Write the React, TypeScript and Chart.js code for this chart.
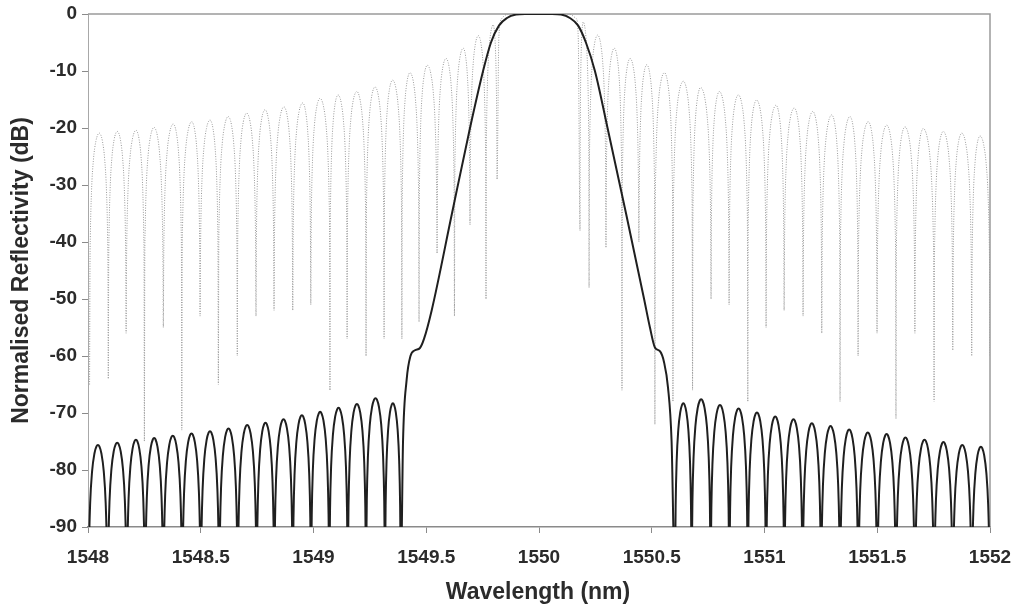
import React, { useEffect, useRef } from "react";
import { Chart, registerables } from "chart.js";

Chart.register(...registerables);

// ---------- axes ----------
const X_TICKS = [1548, 1548.5, 1549, 1549.5, 1550, 1550.5, 1551, 1551.5, 1552];
const Y_TICKS = [0, -10, -20, -30, -40, -50, -60, -70, -80, -90];
const X_TITLE = "Wavelength (nm)";
const Y_TITLE = "Normalised Reflectivity (dB)";

// ---------- apodised grating (solid black) ----------
const APOD_LEFT_NULLS = [1548.001, 1548.087, 1548.172, 1548.253, 1548.334, 1548.418, 1548.5, 1548.582, 1548.664, 1548.748, 1548.826, 1548.908, 1548.989, 1549.07, 1549.152, 1549.233, 1549.317, 1549.387];
const APOD_LEFT_PEAKS = [-75.6, -75.2, -74.7, -74.4, -74.0, -73.6, -73.2, -72.7, -72.1, -71.7, -71.1, -70.4, -69.8, -69.1, -68.4, -67.4, -68.3];
const APOD_MAIN_X = [1549.397, 1549.413, 1549.43, 1549.45, 1549.472, 1549.49, 1549.524, 1549.614, 1549.694, 1549.752, 1549.787, 1549.823, 1549.858, 1549.898, 1549.938, 1550.0, 1550.058, 1550.098, 1550.137, 1550.173, 1550.208, 1550.248, 1550.304, 1550.386, 1550.466, 1550.492, 1550.514, 1550.537, 1550.554, 1550.572, 1550.588];
const APOD_MAIN_Y = [-75, -64.2, -60.0, -59.0, -58.6, -57.0, -52.0, -35.0, -20.0, -10.0, -5.0, -2.0, -0.7, -0.1, 0, 0, 0, -0.1, -0.7, -2.0, -5.0, -10.0, -20.0, -35.0, -50.0, -55.0, -58.5, -59.2, -61.0, -65.5, -75.0];
const APOD_RIGHT_NULLS = [1550.603, 1550.677, 1550.761, 1550.844, 1550.926, 1551.007, 1551.088, 1551.169, 1551.251, 1551.335, 1551.416, 1551.5, 1551.583, 1551.667, 1551.752, 1551.835, 1551.919, 1552.0];
const APOD_RIGHT_PEAKS = [-68.3, -67.6, -68.6, -69.2, -69.9, -70.6, -71.1, -71.8, -72.3, -72.9, -73.4, -73.7, -74.3, -74.7, -75.1, -75.6, -75.9];
const APOD_NULL_LEVEL = -100; // nulls fall below the -90 dB floor

// ---------- uniform grating (dotted grey) ----------
const UNI_LEFT_NULL_X = [1548.007, 1548.09, 1548.169, 1548.25, 1548.334, 1548.416, 1548.497, 1548.578, 1548.662, 1548.745, 1548.825, 1548.908, 1548.988, 1549.073, 1549.149, 1549.233, 1549.313, 1549.392, 1549.468, 1549.548, 1549.625, 1549.694, 1549.765, 1549.814];
const UNI_LEFT_NULL_Y = [-65, -64, -56, -75, -55, -73, -53, -65, -60, -53, -52, -52, -51, -66, -57, -60, -57, -57, -54, -42, -53, -37, -50, -29];
const UNI_LEFT_PEAK_X = [1548.05, 1548.13, 1548.213, 1548.293, 1548.378, 1548.46, 1548.541, 1548.622, 1548.704, 1548.785, 1548.869, 1548.952, 1549.029, 1549.109, 1549.192, 1549.273, 1549.351, 1549.428, 1549.505, 1549.588, 1549.664, 1549.731, 1549.797];
const UNI_LEFT_PEAK_Y = [-20.9, -20.6, -20.4, -19.9, -19.3, -18.9, -18.6, -18.0, -17.4, -16.8, -16.3, -15.6, -14.8, -14.2, -13.6, -12.8, -11.6, -10.3, -9.0, -7.8, -6.0, -3.8, -1.9];
const UNI_MAIN_X = [1549.822, 1549.835, 1549.87, 1550.13, 1550.165, 1550.174];
const UNI_MAIN_Y = [-4, -0.8, 0, 0, -0.8, -4];
const UNI_RIGHT_NULL_X = [1550.182, 1550.222, 1550.297, 1550.368, 1550.443, 1550.514, 1550.594, 1550.681, 1550.763, 1550.843, 1550.926, 1551.007, 1551.087, 1551.171, 1551.254, 1551.335, 1551.415, 1551.499, 1551.583, 1551.667, 1551.752, 1551.835, 1551.919, 1552.0];
const UNI_RIGHT_NULL_Y = [-38, -48, -41, -66, -40, -72, -68, -66, -50, -51, -68, -55, -52, -53, -56, -68, -60, -56, -71, -56, -68, -59, -60, -60];
const UNI_RIGHT_PEAK_X = [1550.196, 1550.26, 1550.334, 1550.404, 1550.478, 1550.556, 1550.64, 1550.717, 1550.8, 1550.884, 1550.965, 1551.051, 1551.132, 1551.214, 1551.298, 1551.379, 1551.46, 1551.542, 1551.623, 1551.704, 1551.793, 1551.875, 1551.956];
const UNI_RIGHT_PEAK_Y = [-1.4, -3.7, -6.0, -7.8, -8.9, -10.3, -11.8, -12.9, -13.6, -14.2, -15.1, -16.0, -16.5, -17.1, -17.7, -18.0, -18.9, -19.5, -19.8, -20.1, -20.6, -20.9, -21.4];

// side-lobe outline: dB below the lobe top,
// at fractions of the way from a null to the lobe top
const LOBE_FRAC = [0.04, 0.08, 0.2, 0.4, 0.64, 0.85];
const LOBE_DROP = [-24, -18, -10.2, -4.6, -1.5, -0.25];

type P = { x: number; y: number };

function pushLobes(out: P[], nx: number[], ny: number[], px: number[], py: number[]) {
  for (let i = 0; i < px.length; i++) {
    const x0 = nx[i], y0 = ny[i], x1 = nx[i + 1], y1 = ny[i + 1];
    const xp = px[i], yp = py[i];
    if (i === 0) out.push({ x: x0, y: y0 });
    for (let k = 0; k < LOBE_FRAC.length; k++) {
      out.push({ x: x0 + (xp - x0) * LOBE_FRAC[k], y: Math.max(yp + LOBE_DROP[k], y0) });
    }
    out.push({ x: xp, y: yp });
    for (let k = LOBE_FRAC.length - 1; k >= 0; k--) {
      out.push({ x: xp + (x1 - xp) * (1 - LOBE_FRAC[k]), y: Math.max(yp + LOBE_DROP[k], y1) });
    }
    out.push({ x: x1, y: y1 });
  }
}

function buildApodised(): P[] {
  const out: P[] = [];
  const lny = APOD_LEFT_NULLS.map(() => APOD_NULL_LEVEL);
  const lpx = APOD_LEFT_PEAKS.map((_, i) => (APOD_LEFT_NULLS[i] + APOD_LEFT_NULLS[i + 1]) / 2);
  pushLobes(out, APOD_LEFT_NULLS, lny, lpx, APOD_LEFT_PEAKS);
  APOD_MAIN_X.forEach((x, i) => out.push({ x, y: APOD_MAIN_Y[i] }));
  const rny = APOD_RIGHT_NULLS.map(() => APOD_NULL_LEVEL);
  const rpx = APOD_RIGHT_PEAKS.map((_, i) => (APOD_RIGHT_NULLS[i] + APOD_RIGHT_NULLS[i + 1]) / 2);
  pushLobes(out, APOD_RIGHT_NULLS, rny, rpx, APOD_RIGHT_PEAKS);
  return out;
}

function buildUniform(): P[] {
  const out: P[] = [];
  pushLobes(out, UNI_LEFT_NULL_X, UNI_LEFT_NULL_Y, UNI_LEFT_PEAK_X, UNI_LEFT_PEAK_Y);
  UNI_MAIN_X.forEach((x, i) => out.push({ x, y: UNI_MAIN_Y[i] }));
  pushLobes(out, UNI_RIGHT_NULL_X, UNI_RIGHT_NULL_Y, UNI_RIGHT_PEAK_X, UNI_RIGHT_PEAK_Y);
  return out;
}

const FONT = '"Liberation Sans", Arial, Helvetica, sans-serif';
const TEXT = "#2b2b2b";
const AXIS = "#8a8a8a";

const framePlugin = {
  id: "frame",
  beforeDatasetsDraw(chart: any) {
    const { ctx, chartArea } = chart;
    ctx.save();
    ctx.strokeStyle = "#9a9a9a";
    ctx.lineWidth = 1.5;
    ctx.beginPath();
    ctx.moveTo(chartArea.left, chartArea.top);
    ctx.lineTo(chartArea.right, chartArea.top);
    ctx.lineTo(chartArea.right, chartArea.bottom);
    ctx.stroke();
    ctx.restore();
  },
  afterDraw(chart: any) {
    const { ctx, chartArea } = chart;
    ctx.save();
    ctx.fillStyle = TEXT;
    ctx.font = `bold 23px ${FONT}`;
    ctx.textAlign = "center";
    ctx.textBaseline = "middle";
    ctx.fillText(X_TITLE, (chartArea.left + chartArea.right) / 2 - 1, 593);
    ctx.translate(22, (chartArea.top + chartArea.bottom) / 2);
    ctx.rotate(-Math.PI / 2);
    ctx.fillText(Y_TITLE, 0, 0);
    ctx.restore();
  },
};

export default function App() {
  const ref = useRef<HTMLCanvasElement>(null);
  useEffect(() => {
    if (!ref.current) return;
    const chart = new Chart(ref.current, {
      type: "line",
      data: {
        datasets: [
          {
            label: "Apodised",
            data: buildApodised(),
            borderColor: "#1f1f1f",
            borderWidth: 2,
            pointRadius: 0,
            cubicInterpolationMode: "monotone",
            order: 0,
          },
          {
            label: "Uniform",
            data: buildUniform(),
            borderColor: "#999999",
            borderWidth: 1,
            borderDash: [1, 1.5],
            pointRadius: 0,
            cubicInterpolationMode: "monotone",
            order: 1,
          },
        ],
      },
      options: {
        animation: false,
        responsive: false,
        maintainAspectRatio: false,
        events: [],
        layout: { padding: { top: 14, right: 30, left: 0, bottom: 0 } },
        plugins: { legend: { display: false }, tooltip: { enabled: false } },
        scales: {
          x: {
            type: "linear",
            min: 1548,
            max: 1552,
            afterBuildTicks: (s: any) => {
              s.ticks = X_TICKS.map((v) => ({ value: v }));
            },
            afterFit: (s: any) => {
              s.height = 85;
              s.paddingLeft = 0;
              s.paddingRight = 0;
            },
            ticks: {
              callback: (v: any) => String(v),
              font: { family: FONT, size: 19, weight: "bold" },
              color: TEXT,
              padding: 13,
              maxRotation: 0,
              autoSkip: false,
            },
            grid: { display: true, drawOnChartArea: false, drawTicks: true, tickLength: 6, color: AXIS },
            border: { display: true, color: AXIS, width: 1.5 },
          },
          y: {
            type: "linear",
            min: -90,
            max: 0,
            afterBuildTicks: (s: any) => {
              s.ticks = Y_TICKS.map((v) => ({ value: v }));
            },
            afterFit: (s: any) => {
              s.width = 88;
              s.paddingTop = 0;
              s.paddingBottom = 0;
            },
            ticks: {
              callback: (v: any) => String(v),
              font: { family: FONT, size: 19, weight: "bold" },
              color: TEXT,
              padding: 5,
              autoSkip: false,
            },
            grid: { display: true, drawOnChartArea: false, drawTicks: true, tickLength: 6, color: AXIS },
            border: { display: true, color: "#a8a8a8", width: 1 },
          },
        },
      },
      plugins: [framePlugin],
    } as any);
    return () => chart.destroy();
  }, []);
  return (
    <div style={{ position: "fixed", left: 0, top: 0, width: 1020, height: 612, background: "#fff" }}>
      <canvas ref={ref} width={1020} height={612} style={{ width: 1020, height: 612, display: "block" }} />
    </div>
  );
}
